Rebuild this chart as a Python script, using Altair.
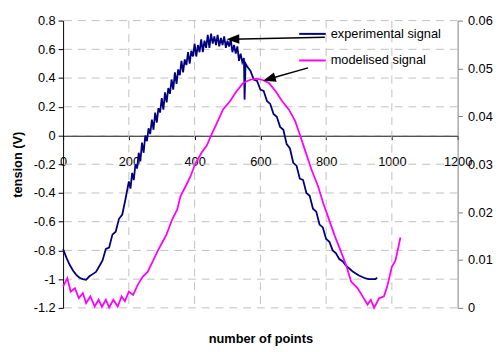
import altair as alt
import pandas as pd

# ---------------- data ----------------
series_names = ["experimental signal", "modelised signal"]
series_colors = ["#000080", "#FF00FF"]

exp_x = [0, 10, 20, 30, 40, 50, 60, 70, 80, 90, 100, 110, 120, 130, 140, 150, 160, 170, 180, 190,
         200, 205, 210, 215, 220, 225, 230, 235, 240, 245, 250, 255, 260, 265, 270, 275, 280, 285,
         290, 295, 300, 305, 310, 315, 320, 325, 330, 335, 340, 345, 350, 355, 360, 365, 370, 375,
         380, 385, 390, 395, 400, 405, 410, 415, 420, 425, 430, 435, 440, 445, 450, 455, 460, 465,
         470, 475, 480, 485, 490, 495, 500, 505, 510, 515, 520, 525, 530, 535, 540, 545, 550, 552,
         555, 560, 570, 580, 590, 600, 610, 620, 630, 640, 650, 660, 670, 680, 690, 700, 710, 720,
         730, 740, 750, 760, 770, 780, 790, 800, 810, 820, 830, 840, 850, 860, 870, 880, 890, 900,
         910, 920, 930, 940, 950, 955]
exp_y = [-0.79, -0.85, -0.90, -0.94, -0.97, -0.99, -1.00, -1.005, -0.98, -0.965, -0.95, -0.91,
         -0.87, -0.79, -0.78, -0.69, -0.67, -0.58, -0.55, -0.44,
         -0.32, -0.37, -0.26, -0.31, -0.20, -0.23, -0.12, -0.18, -0.05, -0.12, 0.00, -0.04, 0.05,
         0.01, 0.11, 0.04, 0.16, 0.09, 0.19, 0.16, 0.26, 0.18, 0.30, 0.23, 0.33, 0.29, 0.39, 0.32,
         0.44, 0.36, 0.46, 0.42, 0.52, 0.44, 0.53, 0.49, 0.58, 0.50, 0.59, 0.55, 0.64, 0.55, 0.63,
         0.58, 0.67, 0.58, 0.66, 0.61, 0.70, 0.61, 0.71, 0.64, 0.69, 0.63, 0.70, 0.62, 0.68, 0.63,
         0.69, 0.61, 0.66, 0.62, 0.67, 0.58, 0.63, 0.57, 0.62, 0.52, 0.57, 0.51, 0.54, 0.25,
         0.50, 0.48, 0.45, 0.39, 0.38, 0.32, 0.31, 0.24, 0.22, 0.15, 0.13, 0.06, 0.04, -0.06, -0.09,
         -0.19, -0.21, -0.30, -0.31, -0.40, -0.42, -0.51, -0.53, -0.62, -0.64, -0.72, -0.74, -0.80,
         -0.82, -0.86, -0.875, -0.905, -0.925, -0.945, -0.96, -0.975, -0.985, -0.995, -1.0, -1.0,
         -1.0, -0.99]

mod_x = [0, 13, 23, 36, 48, 60, 70, 83, 96, 108, 118, 130, 140, 153, 166, 178, 188, 200, 213,
         227, 242, 257, 272, 287, 302, 315, 332, 347, 357, 372, 387, 402, 422, 437, 452, 467, 487,
         507, 527, 547, 567, 587, 607, 627, 647, 667, 687, 706, 721, 736, 756, 776, 791, 806, 826,
         846, 861, 876, 896, 911, 926, 936, 946, 961, 976, 986, 1000, 1011, 1026]
mod_y = [0.0045, 0.0062, 0.0034, 0.0041, 0.0020, 0.0031, 0.0010, 0.0024, 0.0003, 0.0017, 0.0002,
         0.0017, 0.0001, 0.0017, 0.0003, 0.0024, 0.0014, 0.0034, 0.0027, 0.0048, 0.0065, 0.0075,
         0.0096, 0.0118, 0.0137, 0.0154, 0.0185, 0.0205, 0.0233, 0.0253, 0.0274, 0.0301, 0.0325,
         0.0339, 0.0363, 0.0385, 0.0415, 0.0431, 0.0452, 0.0469, 0.0476, 0.0479, 0.0476, 0.0469,
         0.0452, 0.0431, 0.0414, 0.0390, 0.0360, 0.0329, 0.0288, 0.0253, 0.0219, 0.0190, 0.0151,
         0.0116, 0.0089, 0.0055, 0.0041, 0.0024, 0.0007, 0.0017, 0.0000, 0.0020, 0.0024, 0.0045,
         0.0086, 0.0099, 0.0147]

x_ticks = [0, 200, 400, 600, 800, 1000, 1200]
left_ticks = [-1.2, -1.0, -0.8, -0.6, -0.4, -0.2, 0.0, 0.2, 0.4, 0.6, 0.8]
right_ticks = [0, 0.01, 0.02, 0.03, 0.04, 0.05, 0.06]

# annotation arrows (data coordinates, left axis): tail then tip
arrow_id = [1, 1, 2, 2]
arrow_x = [796, 510, 745, 620]
arrow_y = [0.684, 0.67, 0.471, 0.39]
head_x = [497, 608]
head_y = [0.67, 0.382]
head_angle = [359, 344]

# ---------------- chart ----------------
FONT = "Liberation Sans"
W, H = 401, 292

exp_df = pd.DataFrame({"x": exp_x, "y": exp_y, "series": series_names[0]})
mod_df = pd.DataFrame({"x": mod_x, "y": mod_y, "series": series_names[1]})
arrow_df = pd.DataFrame({"id": arrow_id, "x": arrow_x, "y": arrow_y})
head_df = pd.DataFrame({"x": head_x, "y": head_y, "a": head_angle})

xs = alt.Scale(domain=[0, 1200], nice=False, zero=False)
yl = alt.Scale(domain=[-1.2, 0.8], nice=False, zero=False)
yr = alt.Scale(domain=[0, 0.06], nice=False, zero=False)

x_axis = alt.Axis(values=x_ticks, offset=-175, grid=False, domainColor="black", domainWidth=1,
                  tickColor="black", tickSize=4, labelFont=FONT, labelFontSize=13,
                  labelColor="black", labelPadding=16, labelFlush=False, labelOverlap=False,
                  format="d", title="number of points", titleFont=FONT, titleFontSize=13,
                  titleFontWeight="bold", titleColor="black", titleY=210,
                  titleBaseline="alphabetic")

color = alt.Color("series:N", scale=alt.Scale(domain=series_names, range=series_colors),
                  legend=alt.Legend(title=None, orient="none", legendX=239, legendY=-1,
                                    symbolType="stroke", symbolSize=729, symbolStrokeWidth=2,
                                    labelFont=FONT, labelFontSize=13, labelColor="black",
                                    labelOffset=4, rowPadding=5, padding=0))

grid_style = dict(color="#c0c0c0", strokeDash=[8, 6], strokeWidth=1)

hgrid = alt.Chart(pd.DataFrame({"v": left_ticks})).mark_rule(**grid_style).encode(
    y=alt.Y("v:Q", scale=yl, axis=None))
vgrid = alt.Chart(pd.DataFrame({"v": x_ticks[1:-1]})).mark_rule(**grid_style).encode(
    x=alt.X("v:Q", scale=xs, axis=x_axis))

exp_line = alt.Chart(exp_df).mark_line(strokeWidth=1.8).encode(
    x=alt.X("x:Q", scale=xs, axis=x_axis),
    y=alt.Y("y:Q", scale=yl,
            axis=alt.Axis(orient="left", values=left_ticks, grid=False, domainColor="black",
                          tickColor="black", tickSize=5, labelPadding=3, labelFont=FONT,
                          labelFontSize=13, labelColor="black",
                          labelExpr="toString(datum.value)", title="tension (V)",
                          titleFont=FONT, titleFontSize=13, titleFontWeight="bold",
                          titleColor="black", titleX=-46, titleBaseline="middle")),
    color=color)

mod_line = alt.Chart(mod_df).mark_line(strokeWidth=1.8).encode(
    x=alt.X("x:Q", scale=xs, axis=x_axis),
    y=alt.Y("y:Q", scale=yr,
            axis=alt.Axis(orient="right", values=right_ticks, grid=False, domainColor="#808080",
                          tickColor="#808080", tickSize=5, labelPadding=5, labelFont=FONT,
                          labelFontSize=13, labelColor="black",
                          labelExpr="toString(datum.value)", title=None)),
    color=color)

arrows = alt.Chart(arrow_df).mark_line(color="black", strokeWidth=1.5).encode(
    x=alt.X("x:Q", scale=xs, axis=x_axis),
    y=alt.Y("y:Q", scale=yl, axis=None),
    detail="id:N")

heads = alt.Chart(head_df).mark_point(shape="M0,0L2,-0.75L2,0.75Z", filled=True, color="black",
                                      opacity=1, size=169).encode(
    x=alt.X("x:Q", scale=xs, axis=x_axis),
    y=alt.Y("y:Q", scale=yl, axis=None),
    angle=alt.Angle("a:Q", scale=None))

chart = alt.layer(hgrid, vgrid, exp_line, mod_line, arrows, heads).resolve_scale(
    y="independent").properties(
    width=W, height=H,
    autosize=alt.AutoSizeParams(type="none"),
    padding={"left": 56, "top": 10, "right": 39, "bottom": 40},
    background="white",
).configure_view(stroke=None)

chart.save("out.html", embed_options={"renderer": "svg", "actions": False})
